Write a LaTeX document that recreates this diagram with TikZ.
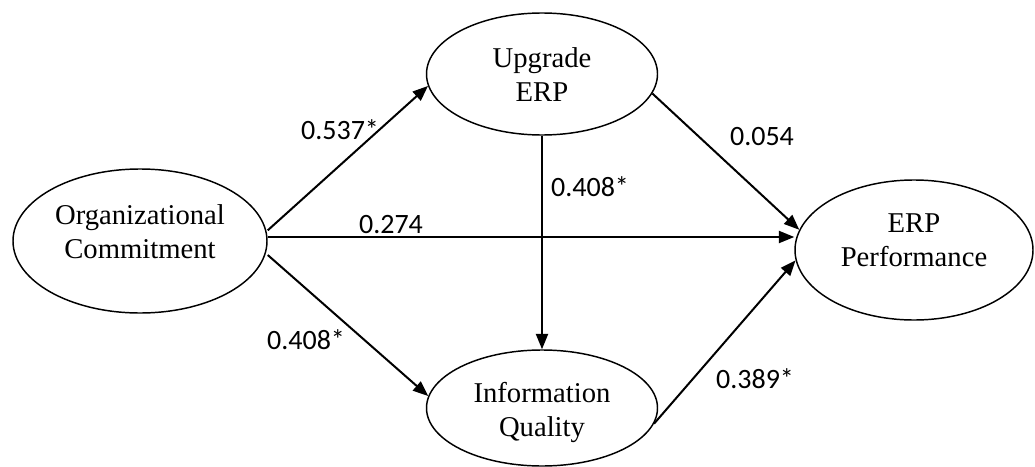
\documentclass[tikz,border=0pt]{standalone}
\usepackage{fontspec}
\setmainfont{Liberation Serif}
\newfontfamily\coeffont{Carlito}
\usetikzlibrary{shapes.geometric,arrows.meta}
\begin{document}
\begin{tikzpicture}[x=0.75pt,y=-0.75pt,
  latent/.style={draw, ellipse, line width=1.1pt, inner sep=0pt},
  nodetext/.style={inner sep=0pt, align=center, font=\fontsize{21.5}{25.5}\selectfont},
  pathedge/.style={line width=1.5pt, -{Triangle[length=11.5pt,width=9pt]}},
  coef/.style={font=\coeffont\fontsize{21}{25}\selectfont, inner sep=0pt}]
\useasboundingbox (0,0) rectangle (1035,467);
\node[latent, minimum width=190.5pt, minimum height=108pt] (oc) at (140,241) {};
\node[latent, minimum width=173.25pt, minimum height=91.5pt] (uerp) at (542,74) {};
\node[latent, minimum width=173.25pt, minimum height=87pt] (iq) at (542,408) {};
\node[latent, minimum width=178.5pt, minimum height=105pt] (erpp) at (914,250) {};
\node[nodetext] (oct) at (140,232) {Organizational\\Commitment};
\node[nodetext] (uerpt) at (542,75) {Upgrade\\ERP};
\node[nodetext] (iqt) at (542,412) {Information\\Quality};
\node[nodetext] (erppt) at (914,240) {ERP\\Performance};

\draw[pathedge] ([yshift=8pt]oc.east) -- (uerp.186);
\draw[pathedge] ([yshift=3pt]oc.east) coordinate (h0) -- (h0 -| erpp.west);
\draw[pathedge] ([yshift=-10.5pt]oc.east) -- (iq.174);
\draw[pathedge] (uerp.350) -- (erpp.170);
\draw[pathedge] (iq.352) -- (erpp.185);
\draw[pathedge] (uerp.south) -- (iq.north);

\node[coef] (c1) at (340,130) {0.537*};
\node[coef] (c2) at (391,225) {0.274};
\node[coef] (c3) at (306,340) {0.408*};
\node[coef] (c4) at (762,137) {0.054};
\node[coef] (c5) at (755,379) {0.389*};
\node[coef] (c6) at (590,187) {0.408*};
\end{tikzpicture}
\end{document}
